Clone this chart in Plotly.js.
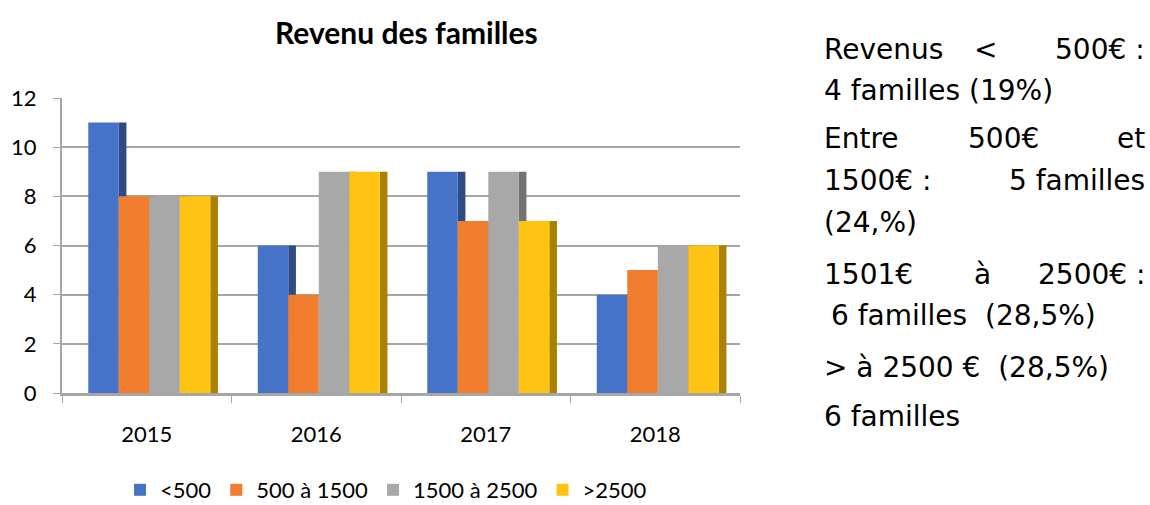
<!DOCTYPE html>
<html><head><meta charset="utf-8">
<script src="https://cdn.plot.ly/plotly-3.0.1.min.js"></script>
<style>html,body{margin:0;padding:0;background:#fff}#chart{width:1150px;height:505px}</style>
</head><body><div id="chart"></div>
<script>
const years = ['2015', '2016', '2017', '2018'];
const seriesNames = ['<500', '500 à 1500', '1500 à 2500', '>2500'];
const lt500 = [11, 6, 9, 4];
const s500to1500 = [8, 4, 7, 5];
const s1500to2500 = [8, 9, 9, 6];
const gt2500 = [8, 9, 7, 6];
const yTicks = [0, 2, 4, 6, 8, 10, 12];

const values = [lt500, s500to1500, s1500to2500, gt2500];
const frontColors = ['#4673C8', '#F07E2E', '#A8A8A8', '#FFC413'];
const sideColors = ['#2E4C82', '#A85A20', '#727272', '#A88200'];

const W = 1150, H = 505;
const L = 62, R = 740, T = 98, B = 393;
const px = x => (x - L) / (R - L);
const py = y => (B - y) / (B - T);

const barW = 0.18, sideW = 0.045, start = -0.345;
const traces = [];
// side faces (depth) first, so the next bar covers them
values.forEach((v, i) => {
  traces.push({
    type: 'bar', x: years, y: v, showlegend: false, hoverinfo: 'skip',
    width: sideW, offset: start + (i + 1) * barW,
    marker: {color: sideColors[i], line: {width: 0}}
  });
});
values.forEach((v, i) => {
  traces.push({
    type: 'bar', name: seriesNames[i], x: years, y: v,
    width: barW, offset: start + i * barW,
    marker: {color: frontColors[i], line: {width: 0}}
  });
});

const textFont = {family: 'DejaVu Sans', size: 28, color: '#000'};
const ann = [];
function t(text, x, y, anchor) {
  ann.push({text: text, x: px(x), y: py(y), xref: 'paper', yref: 'paper',
    xanchor: anchor, yanchor: 'middle', showarrow: false, font: textFont});
}
t('Revenus', 822, 50, 'left'); t('<', 985, 50, 'center'); t('500€ :', 1147, 50, 'right');
t('4 familles (19%)', 822, 90, 'left');
t('Entre', 822, 138, 'left'); t('500€', 1003, 138, 'center'); t('et', 1147, 138, 'right');
t('1500€ :', 822, 180, 'left'); t('5 familles', 1147, 180, 'right');
t('(24,%)', 822, 222, 'left');
t('1501€', 822, 274, 'left'); t('à', 982, 274, 'center'); t('2500€ :', 1147, 274, 'right');
t('6 familles  (28,5%)', 829, 315, 'left');
t('> à 2500 €  (28,5%)', 822, 367, 'left');
t('6 familles', 822, 416, 'left');

ann.push({text: '<b>Revenu des familles</b>', x: px(406), y: py(32), xref: 'paper', yref: 'paper',
  xanchor: 'center', yanchor: 'middle', showarrow: false,
  font: {family: 'Lato', size: 30, color: '#000'}});

const layout = {
  width: W, height: H,
  margin: {l: L, r: W - R, t: T, b: H - B, pad: 0},
  paper_bgcolor: '#fff', plot_bgcolor: '#fff',
  barmode: 'overlay',
  showlegend: true,
  legend: {orientation: 'h', xref: 'container', yref: 'container',
    x: 386 / W, xanchor: 'center', y: 1 - 490 / H, yanchor: 'middle',
    font: {family: 'Lato', size: 22, color: '#000'}, itemwidth: 30, traceorder: 'normal'},
  xaxis: {type: 'category', categoryorder: 'array', categoryarray: years,
    range: [-0.5, 3.5], showgrid: false, showline: true, linecolor: '#A6A6A6', linewidth: 3,
    ticks: 'outside', tickson: 'boundaries', ticklen: 7, tickcolor: '#A6A6A6', tickwidth: 1,
    ticklabelstandoff: 20,
    tickfont: {family: 'Lato', size: 22, color: '#000'}, fixedrange: true},
  yaxis: {range: [0, 12], tickvals: yTicks, ticktext: yTicks.map(String),
    showgrid: true, gridcolor: '#A6A6A6', gridwidth: 2,
    showline: true, linecolor: '#A6A6A6', linewidth: 2,
    ticks: 'outside', ticklen: 7, tickcolor: '#A6A6A6', tickwidth: 1,
    ticklabelstandoff: 12, zeroline: false,
    tickfont: {family: 'Lato', size: 22, color: '#000'}, fixedrange: true},
  annotations: ann
};
Plotly.newPlot('chart', traces, layout, {displayModeBar: false, staticPlot: true});
</script></body></html>
